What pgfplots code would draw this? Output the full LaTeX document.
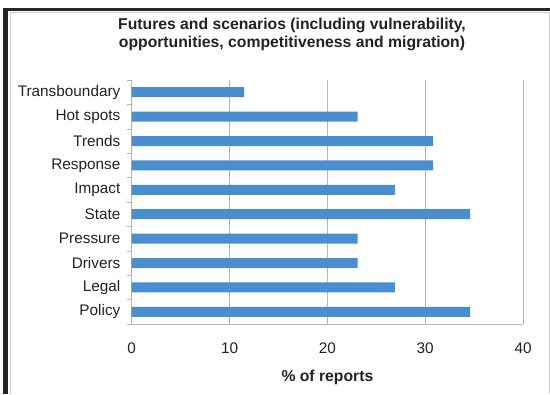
\documentclass[border=0pt]{standalone}
\usepackage{pgfplots}
\pgfplotsset{compat=1.18}
\usepackage{fontspec}
\setmainfont{Liberation Sans}

\definecolor{barblue}{HTML}{4A8ECF}
\definecolor{gridgray}{HTML}{B4B4B4}
\definecolor{txt}{HTML}{222222}

\begin{document}
\begin{tikzpicture}[font=\fontsize{11.5}{13.5}\selectfont]
% picture frame (1px = 0.75pt, axis origin at pixel 131.7,324)
\path[use as bounding box] (-98.8pt,-52.5pt) rectangle (313.7pt,243pt);
\fill[black!85] (-96.3pt,-52.5pt) rectangle (-92.5pt,237pt);
\fill[black!85] (-96.3pt,234.8pt) rectangle (313.7pt,237pt);
\draw[gray!40, line width=0.5pt] (-91.3pt,-52.5pt) -- (-91.3pt,234pt) -- (313pt,234pt) -- (313pt,-52.5pt);

\node[font=\fontsize{11.8}{13.5}\selectfont\bfseries, text=txt, align=center] at (120.2pt,217.5pt)
  {Futures and scenarios (including vulnerability,\\opportunities, competitiveness and migration)};

\begin{axis}[
    scale only axis,
    width=293.5pt, height=183pt,
    xbar, bar width=7.5pt,
    xmin=0, xmax=40,
    ymin=-0.5, ymax=9.5,
    xtick={0,10,20,30,40},
    ytick={0,...,9},
    yticklabels={Policy,Legal,Drivers,Pressure,State,Impact,Response,Trends,Hot spots,Transboundary},
    minor ytick={-0.5,0.5,...,9.5},
    major tick length=0pt,
    minor tick length=3.75pt,
    tick align=outside,
    tick style={gridgray},
    axis x line*=bottom,
    axis y line*=left,
    axis line style={gridgray, -},
    xmajorgrids, grid style={gridgray, line width=0.5pt},
    ticklabel style={text=txt, font=\fontsize{11.5}{13.5}\selectfont},
    /pgf/number format/assume math mode=true,
    xticklabel style={anchor=center, yshift=-18pt},
    yticklabel style={xshift=-5pt},
    xlabel={\% of reports},
    xlabel style={at={(axis description cs:0.5,0)}, anchor=center, yshift=-39.75pt,
                  font=\fontsize{11.8}{13.5}\selectfont\bfseries, text=txt},
]
\addplot[fill=barblue, draw=none] coordinates {
    (34.6,0) (26.9,1) (23.1,2) (23.1,3) (34.6,4)
    (26.9,5) (30.8,6) (30.8,7) (23.1,8) (11.5,9)
};
\end{axis}
\end{tikzpicture}
\end{document}
